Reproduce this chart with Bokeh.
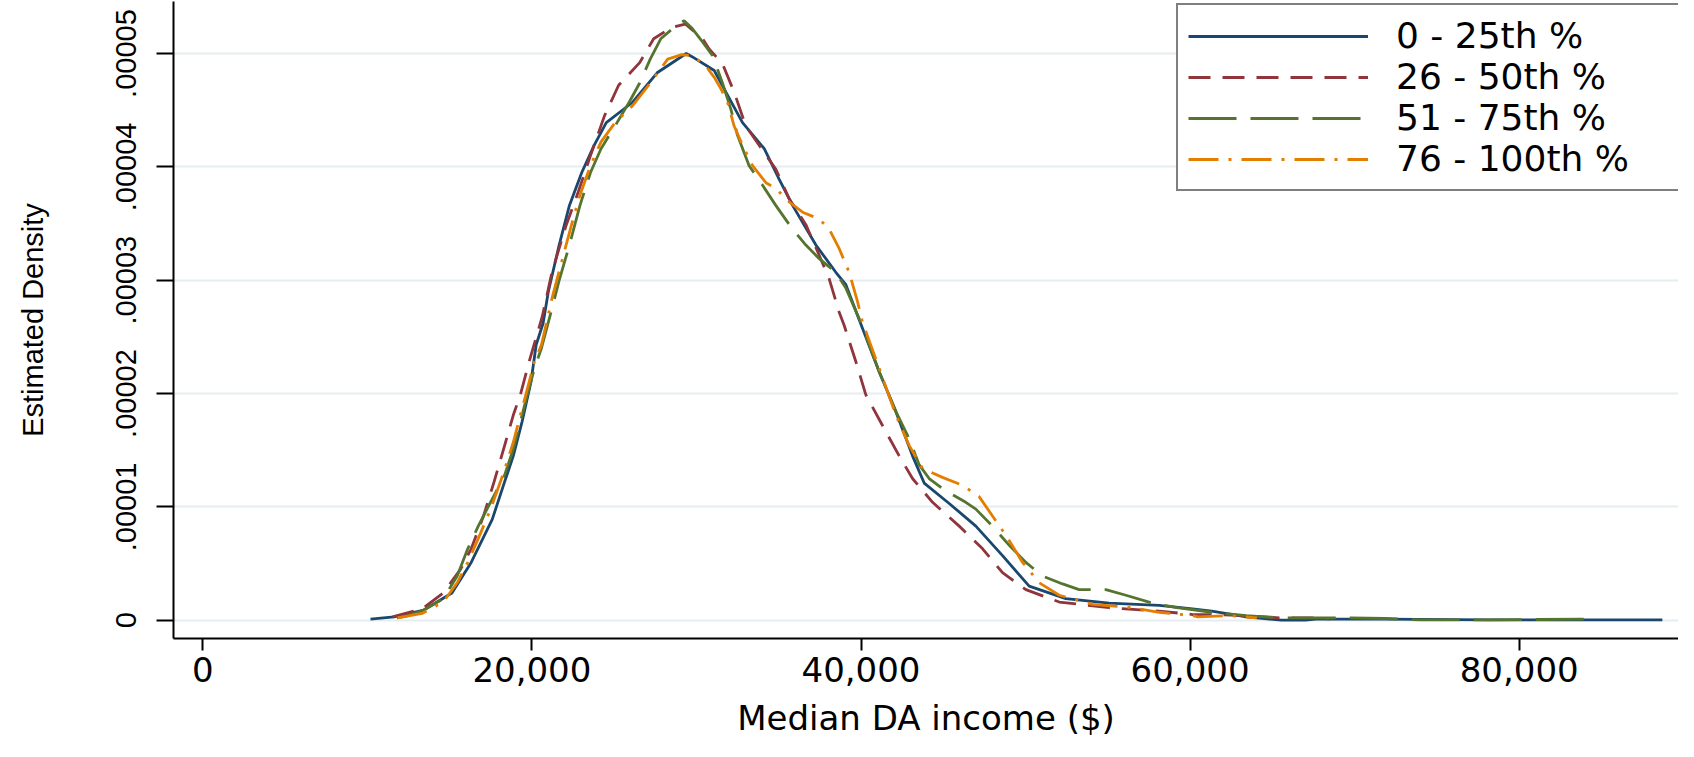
from bokeh.plotting import figure
from bokeh.models import Range1d, FixedTicker, Legend, LegendItem
from bokeh.embed import file_html
from bokeh.resources import INLINE

# ---- data ----
series_labels = ["0 - 25th %", "26 - 50th %", "51 - 75th %", "76 - 100th %"]
series_colors = ["#1a476f", "#90353b", "#55752f", "#e37e00"]

q1_income = [10190, 11620, 13430, 15140, 16310, 17590, 18340, 18870, 19400, 19940, 20260, 20680,
             21000, 21640, 22280, 23030, 23780, 24520, 26120, 27610, 29380, 29760, 31080, 31790,
             32800, 34120, 35030, 35840, 37260, 38470, 39080, 39890, 41110, 42120, 43130, 43840,
             45360, 46980, 48600, 50220, 52450, 55080, 58120, 60150, 61320, 63420, 65530, 67000,
             67640, 71850, 78170, 88700]
q1_density = [0.01e-5, 0.03e-5, 0.09e-5, 0.24e-5, 0.51e-5, 0.89e-5, 1.22e-5, 1.45e-5, 1.75e-5,
              2.10e-5, 2.43e-5, 2.62e-5, 2.90e-5, 3.30e-5, 3.66e-5, 3.95e-5, 4.19e-5, 4.39e-5,
              4.57e-5, 4.83e-5, 5.00e-5, 4.97e-5, 4.85e-5, 4.66e-5, 4.39e-5, 4.16e-5, 3.89e-5,
              3.66e-5, 3.31e-5, 3.07e-5, 2.96e-5, 2.65e-5, 2.19e-5, 1.84e-5, 1.45e-5, 1.21e-5,
              1.03e-5, 0.83e-5, 0.57e-5, 0.30e-5, 0.19e-5, 0.15e-5, 0.13e-5, 0.10e-5, 0.08e-5,
              0.03e-5, 0.00e-5, 0.00e-5, 0.01e-5, 0.01e-5, 0.003e-5, 0.003e-5]

q2_income = [11530, 13330, 14610, 15670, 16310, 17060, 17700, 18340, 18870, 19300, 19830, 20630,
             21220, 22070, 22820, 23560, 24410, 25270, 26550, 27400, 28470, 29320, 30380, 30770,
             31580, 32290, 33000, 33810, 34820, 35630, 36650, 37460, 38070, 38670, 38980, 39690,
             40290, 41410, 42320, 43130, 44350, 45970, 47390, 48600, 50020, 52050, 55080, 58120,
             60150, 61320, 63420, 65530, 67640, 68500]
q2_density = [0.03e-5, 0.10e-5, 0.24e-5, 0.45e-5, 0.63e-5, 0.92e-5, 1.22e-5, 1.54e-5, 1.81e-5,
              1.99e-5, 2.28e-5, 2.68e-5, 3.07e-5, 3.48e-5, 3.78e-5, 4.10e-5, 4.45e-5, 4.72e-5,
              4.92e-5, 5.13e-5, 5.23e-5, 5.26e-5, 5.13e-5, 5.04e-5, 4.91e-5, 4.66e-5, 4.36e-5,
              4.19e-5, 3.98e-5, 3.72e-5, 3.49e-5, 3.22e-5, 3.01e-5, 2.72e-5, 2.60e-5, 2.28e-5,
              1.99e-5, 1.69e-5, 1.45e-5, 1.25e-5, 1.04e-5, 0.83e-5, 0.63e-5, 0.42e-5, 0.27e-5,
              0.16e-5, 0.11e-5, 0.08e-5, 0.05e-5, 0.05e-5, 0.04e-5, 0.02e-5, 0.02e-5, 0.01e-5]

q3_income = [11800, 12480, 13430, 14610, 15460, 16100, 16740, 17270, 17810, 18340, 18870, 19300,
             19720, 20150, 20580, 21000, 21220, 21640, 22280, 22920, 23560, 24200, 25050, 25910,
             26550, 27190, 27830, 28470, 29250, 29750, 30380, 30980, 31580, 32090, 32490, 33200,
             34010, 34820, 35840, 36650, 37460, 38470, 39080, 39890, 40190, 41110, 42120, 42930,
             43540, 44140, 45160, 46370, 46980, 47990, 49010, 50020, 51030, 52250, 53260, 54880,
             56100, 57720, 59210, 61320, 63420, 65530, 67640, 69740, 71850, 73950, 78170, 84480]
q3_density = [0.02e-5, 0.04e-5, 0.09e-5, 0.19e-5, 0.39e-5, 0.63e-5, 0.83e-5, 0.98e-5, 1.13e-5,
              1.28e-5, 1.51e-5, 1.75e-5, 1.99e-5, 2.22e-5, 2.40e-5, 2.63e-5, 2.75e-5, 2.99e-5,
              3.31e-5, 3.66e-5, 3.95e-5, 4.16e-5, 4.36e-5, 4.57e-5, 4.74e-5, 4.95e-5, 5.13e-5,
              5.21e-5, 5.29e-5, 5.22e-5, 5.10e-5, 4.98e-5, 4.74e-5, 4.51e-5, 4.28e-5, 4.01e-5,
              3.84e-5, 3.66e-5, 3.45e-5, 3.31e-5, 3.19e-5, 3.07e-5, 2.93e-5, 2.66e-5, 2.55e-5,
              2.19e-5, 1.84e-5, 1.60e-5, 1.37e-5, 1.25e-5, 1.14e-5, 1.04e-5, 0.98e-5, 0.83e-5,
              0.66e-5, 0.51e-5, 0.39e-5, 0.32e-5, 0.27e-5, 0.27e-5, 0.22e-5, 0.15e-5, 0.11e-5,
              0.07e-5, 0.04e-5, 0.02e-5, 0.02e-5, 0.02e-5, 0.015e-5, 0.003e-5, 0.003e-5, 0.01e-5]

q4_income = [11840, 13330, 14610, 15460, 16100, 16740, 17490, 18230, 18870, 19300, 19720, 20150,
             20580, 20900, 21220, 21860, 22390, 22920, 23560, 24200, 25050, 26120, 27190, 28250,
             29110, 29760, 30570, 31080, 31480, 31890, 32290, 32800, 33410, 34220, 34820, 35640,
             36450, 37460, 38070, 38670, 39280, 39790, 40090, 41110, 42120, 42930, 43740, 44950,
             46170, 47180, 47990, 48800, 49820, 50830, 52050, 54070, 56500, 58120, 60150, 60480,
             62370, 64060]
q4_density = [0.02e-5, 0.06e-5, 0.16e-5, 0.33e-5, 0.51e-5, 0.72e-5, 0.98e-5, 1.28e-5, 1.57e-5,
              1.81e-5, 2.04e-5, 2.28e-5, 2.43e-5, 2.63e-5, 2.84e-5, 3.19e-5, 3.48e-5, 3.75e-5,
              4.01e-5, 4.22e-5, 4.39e-5, 4.54e-5, 4.74e-5, 4.95e-5, 4.99e-5, 4.98e-5, 4.89e-5,
              4.79e-5, 4.69e-5, 4.57e-5, 4.36e-5, 4.19e-5, 4.01e-5, 3.86e-5, 3.81e-5, 3.69e-5,
              3.60e-5, 3.54e-5, 3.45e-5, 3.28e-5, 3.07e-5, 2.81e-5, 2.63e-5, 2.22e-5, 1.81e-5,
              1.54e-5, 1.34e-5, 1.26e-5, 1.19e-5, 1.09e-5, 0.92e-5, 0.75e-5, 0.51e-5, 0.33e-5,
              0.22e-5, 0.14e-5, 0.11e-5, 0.07e-5, 0.04e-5, 0.03e-5, 0.04e-5, 0.02e-5]

x_ticks = [0, 20000, 40000, 60000, 80000]
x_tick_labels = ["0", "20,000", "40,000", "60,000", "80,000"]
y_ticks = [0.0, 0.00001, 0.00002, 0.00003, 0.00004, 0.00005]
y_tick_labels = ["0", ".00001", ".00002", ".00003", ".00004", ".00005"]
x_title = "Median DA income ($)"
y_title = "Estimated Density"

# ---- figure ----
p = figure(width=1678, height=741, output_backend="svg", toolbar_location=None,
           x_range=Range1d(-1781, 89681), y_range=Range1d(-0.1615e-5, 5.459e-5),
           min_border_left=173, min_border_right=0, min_border_top=1, min_border_bottom=103)
p.outline_line_color = None
p.background_fill_color = "white"
p.border_fill_color = "white"

p.xgrid.visible = False
p.yaxis.ticker = FixedTicker(ticks=y_ticks)
p.ygrid.ticker = FixedTicker(ticks=y_ticks)
p.ygrid.grid_line_color = "#e5edf0"
p.ygrid.grid_line_width = 2
p.xaxis.ticker = FixedTicker(ticks=x_ticks)
p.xaxis.major_label_overrides = dict(zip(x_ticks, x_tick_labels))
p.yaxis.major_label_overrides = dict(zip(y_ticks, y_tick_labels))

for ax in (p.xaxis, p.yaxis):
    ax.axis_line_color = "black"
    ax.axis_line_width = 2
    ax.major_tick_line_color = "black"
    ax.major_tick_line_width = 2
    ax.major_tick_in = 0
    ax.minor_tick_line_color = None
    ax.major_label_text_color = "black"
    ax.axis_label_text_color = "black"
    ax.axis_label_text_font_style = "normal"

p.yaxis.major_tick_out = 17
p.yaxis.major_label_orientation = "vertical"
p.yaxis.major_label_text_font = "Liberation Sans"
p.yaxis.major_label_text_font_size = "29px"
p.yaxis.major_label_standoff = 20
p.yaxis.axis_label = y_title
p.yaxis.axis_label_text_font = "Liberation Sans"
p.yaxis.axis_label_text_font_size = "29px"
p.yaxis.axis_label_standoff = 65

p.xaxis.major_tick_out = 12
p.xaxis.major_label_text_font = "DejaVu Sans"
p.xaxis.major_label_text_font_size = "34px"
p.xaxis.major_label_standoff = 6
p.xaxis.axis_label = x_title
p.xaxis.axis_label_text_font = "DejaVu Sans"
p.xaxis.axis_label_text_font_size = "34px"
p.xaxis.axis_label_standoff = 13

incomes = [q1_income, q2_income, q3_income, q4_income]
densities = [q1_density, q2_density, q3_density, q4_density]
dashes = ["solid", "22 12", "48 14", "30 10 3 10"]

items = []
for xs, ys, col, dash, lab in zip(incomes, densities, series_colors, dashes, series_labels):
    r = p.line(xs, ys, line_color=col, line_width=2.8, line_dash=dash)
    items.append(LegendItem(label=lab, renderers=[r]))

legend = Legend(items=items, location=(1003, 447), padding=10, spacing=-2,
                glyph_width=180, glyph_height=40, label_standoff=28, label_width=273,
                label_text_font="DejaVu Sans", label_text_font_size="36px",
                label_text_color="black",
                border_line_color="black", border_line_width=2,
                background_fill_color="white", background_fill_alpha=1.0)
p.add_layout(legend)

open("out.html", "w").write(file_html(p, INLINE))
